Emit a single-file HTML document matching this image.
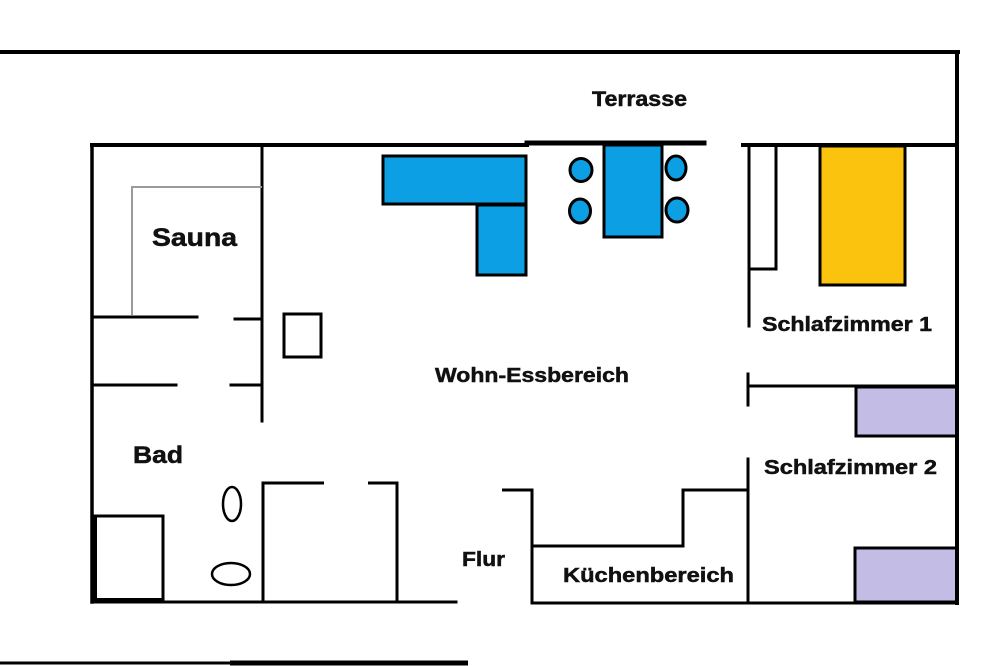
<!DOCTYPE html>
<html><head><meta charset="utf-8"><style>
html,body{margin:0;padding:0;background:#fff;}
svg{display:block;}
text{font-family:"Liberation Sans",Arial,sans-serif;font-weight:bold;fill:#111;stroke:#111;stroke-width:0.5px;}
</style></head><body>
<svg width="1000" height="666" viewBox="0 0 1000 666" xmlns="http://www.w3.org/2000/svg">
<rect width="1000" height="666" fill="#fff"/>
<g stroke="#000" fill="none" stroke-linecap="square">
<!-- outer terrace walls -->
<line x1="0" y1="52" x2="958" y2="52" stroke-width="4"/>
<line x1="957" y1="52" x2="957" y2="603" stroke-width="4"/>
<!-- inner top wall -->
<line x1="92" y1="145" x2="527" y2="145" stroke-width="4"/>
<line x1="527" y1="143" x2="704" y2="143" stroke-width="5"/>
<line x1="743" y1="145" x2="957" y2="145" stroke-width="4"/>
<!-- left wall -->
<line x1="92" y1="145" x2="92" y2="602" stroke-width="3.5"/>
<!-- sauna/bath partition -->
<line x1="262" y1="145" x2="262" y2="421" stroke-width="3"/>
<line x1="92" y1="317" x2="197" y2="317" stroke-width="3"/>
<line x1="235" y1="319" x2="262" y2="319" stroke-width="3"/>
<line x1="92" y1="385" x2="176" y2="385" stroke-width="3"/>
<line x1="231" y1="385" x2="262" y2="385" stroke-width="3"/>
<!-- small rect -->
<rect x="284" y="314" width="37" height="43" stroke-width="3"/>
<!-- bottom walls -->
<line x1="92" y1="602" x2="456" y2="602" stroke-width="3"/>
<!-- bad square -->
<rect x="94" y="516" width="69" height="85" stroke-width="3"/>
<!-- bath -->
<polyline points="263,602 263,483 324,483" stroke-width="3" stroke-linecap="butt"/>
<polyline points="368,483 397,483 397,602" stroke-width="3" stroke-linecap="butt"/>
<!-- kitchen -->
<polyline points="502,490 532,490 532,603 957,603" stroke-width="3" stroke-linecap="butt"/>
<polyline points="532,546 683,546 683,490 748,490" stroke-width="3" stroke-linecap="butt"/>
<line x1="748" y1="459" x2="748" y2="603" stroke-width="3"/>
<!-- bedroom 1 -->
<line x1="749" y1="145" x2="749" y2="326" stroke-width="3"/>
<polyline points="749,269 776,269 776,145" stroke-width="3" stroke-linecap="butt"/>
<line x1="748" y1="374" x2="748" y2="405" stroke-width="3"/>
<line x1="748" y1="386" x2="957" y2="386" stroke-width="3"/>
<!-- bottom line -->
<line x1="0" y1="663" x2="232" y2="663" stroke-width="3" stroke-linecap="butt"/>
<line x1="230" y1="663" x2="468" y2="663" stroke-width="5" stroke-linecap="butt"/>
</g>
<!-- thick parts of bad square -->
<rect x="92" y="516" width="5" height="87" fill="#000"/>
<rect x="92" y="598" width="71" height="5" fill="#000"/>
<!-- sauna gray -->
<polyline points="132,315 132,187 262,187" fill="none" stroke="#9a9a9a" stroke-width="2"/>
<!-- ellipses -->
<ellipse cx="232" cy="504" rx="9" ry="17" fill="none" stroke="#000" stroke-width="2.5"/>
<ellipse cx="231" cy="574" rx="19" ry="11" fill="none" stroke="#000" stroke-width="2.5"/>
<!-- blue furniture -->
<g fill="#0d9fe3" stroke="#000" stroke-width="3">
<rect x="383" y="156" width="143" height="48"/>
<rect x="477" y="205" width="49" height="70"/>
<rect x="604" y="145" width="58" height="92"/>
<ellipse cx="581" cy="170" rx="11" ry="11.5"/>
<ellipse cx="676" cy="168" rx="10" ry="12"/>
<ellipse cx="580" cy="211" rx="10.5" ry="12"/>
<ellipse cx="677" cy="210" rx="11" ry="12"/>
</g>
<!-- bed -->
<rect x="820" y="146" width="85" height="139" fill="#fcc30e" stroke="#000" stroke-width="3"/>
<!-- purple -->
<rect x="856" y="387" width="101" height="49" fill="#c3bde6" stroke="#000" stroke-width="3"/>
<rect x="855" y="548" width="102" height="54" fill="#c3bde6" stroke="#000" stroke-width="3"/>
<line x1="957" y1="380" x2="957" y2="605" stroke="#000" stroke-width="4"/>
<!-- labels -->
<text x="592" y="106" font-size="21" textLength="95" lengthAdjust="spacingAndGlyphs">Terrasse</text>
<text x="152" y="246" font-size="25" textLength="85" lengthAdjust="spacingAndGlyphs">Sauna</text>
<text x="435" y="382" font-size="20" textLength="194" lengthAdjust="spacingAndGlyphs">Wohn-Essbereich</text>
<text x="762" y="331" font-size="20" textLength="170" lengthAdjust="spacingAndGlyphs">Schlafzimmer 1</text>
<text x="764" y="474" font-size="20" textLength="173" lengthAdjust="spacingAndGlyphs">Schlafzimmer 2</text>
<text x="133" y="463" font-size="24" textLength="50" lengthAdjust="spacingAndGlyphs">Bad</text>
<text x="462" y="566" font-size="20" textLength="43" lengthAdjust="spacingAndGlyphs">Flur</text>
<text x="563" y="582" font-size="20" textLength="171" lengthAdjust="spacingAndGlyphs">Küchenbereich</text>
</svg>
</body></html>
